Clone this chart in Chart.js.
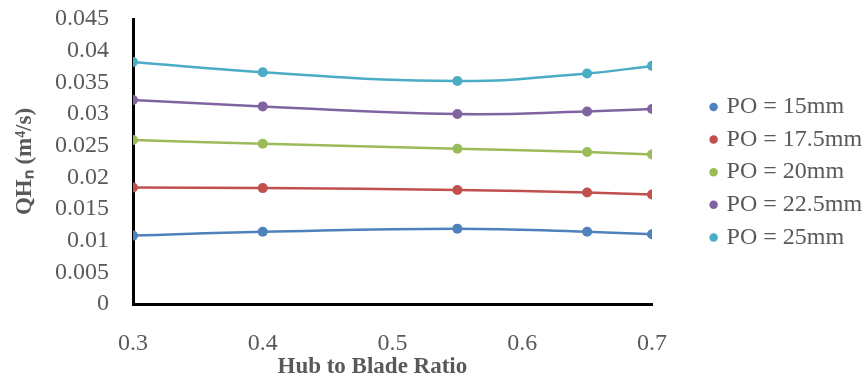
<!DOCTYPE html>
<html>
<head>
<meta charset="utf-8">
<script src="https://cdn.jsdelivr.net/npm/chart.js@4"></script>
<style>
  html, body { margin: 0; padding: 0; background: #fff; }
  #wrap { width: 863px; height: 381px; position: relative; }
</style>
</head>
<body>
<div id="wrap"><canvas id="c" width="863" height="381"></canvas></div>
<script>
const hubRatio = [0.3, 0.4, 0.55, 0.65, 0.7];
const seriesNames = ['PO = 15mm', 'PO = 17.5mm', 'PO = 20mm', 'PO = 22.5mm', 'PO = 25mm'];
const po15  = [0.0108, 0.0114, 0.0119, 0.0114, 0.0110];
const po175 = [0.0184, 0.0183, 0.0180, 0.0176, 0.0173];
const po20  = [0.0259, 0.0253, 0.0245, 0.0240, 0.0236];
const po225 = [0.0322, 0.0312, 0.0300, 0.0304, 0.0308];
const po25  = [0.0382, 0.0366, 0.0352, 0.0364, 0.0376];
const seriesValues = [po15, po175, po20, po225, po25];
const colors = ['#4F81BD', '#C0504D', '#9BBB59', '#8064A2', '#4BACC6'];

const FONT = '"Liberation Serif", "Times New Roman", serif';
const GREY = '#595959';

const datasets = seriesValues.map((vals, i) => ({
  label: seriesNames[i],
  data: vals.map((v, j) => ({ x: hubRatio[j], y: v })),
  borderColor: colors[i],
  backgroundColor: colors[i],
  borderWidth: 2.5,
  pointRadius: 5,
  pointHoverRadius: 5,
  pointBorderWidth: 0,
  tension: 0.45,
  fill: false
}));

// Fix the legend box width so it sits where the reference puts it
const legendWidth = {
  id: 'legendWidth',
  beforeUpdate(chart) {
    const lg = chart.legend;
    if (lg && !lg.__wrapped) {
      const orig = lg.fit;
      lg.fit = function () { orig.call(this); this.width = 159; };
      lg.__wrapped = true;
    }
  }
};

new Chart(document.getElementById('c'), {
  type: 'line',
  data: { datasets },
  plugins: [legendWidth],
  options: {
    responsive: false,
    animation: false,
    layout: { padding: { top: 19, left: 0, right: 0, bottom: 0 } },
    plugins: {
      tooltip: { enabled: false },
      legend: {
        position: 'right',
        align: 'start',
        title: { display: true, text: '', padding: { top: 27, bottom: 26 }, font: { size: 12 } },
        labels: {
          usePointStyle: true,
          pointStyle: 'circle',
          boxWidth: 2,
          boxHeight: 6,
          padding: 8.6,
          color: GREY,
          font: { family: FONT, size: 24 }
        }
      }
    },
    scales: {
      x: {
        type: 'linear',
        min: 0.3,
        max: 0.7,
        grid: { display: false, drawTicks: false },
        border: { display: true, color: '#000', width: 3 },
        ticks: {
          stepSize: 0.1,
          padding: 25,
          autoSkip: false,
          maxRotation: 0,
          color: GREY,
          font: { family: FONT, size: 24 },
          callback: v => (+v.toFixed(1)).toString()
        },
        title: {
          display: true,
          text: 'Hub to Blade Ratio       ',
          color: GREY,
          font: { family: FONT, size: 23, weight: 'bold' },
          padding: { top: 0, bottom: 0 }
        },
        afterFit: s => { s.height = 77; }
      },
      y: {
        min: 0,
        max: 0.045,
        grid: { display: false, drawTicks: false },
        border: { display: true, color: '#000', width: 3 },
        ticks: {
          stepSize: 0.005,
          padding: 24,
          autoSkip: false,
          color: GREY,
          font: { family: FONT, size: 24 },
          callback: v => (+v.toFixed(3)).toString()
        },
        title: {
          display: true,
          text: 'QHₙ (m⁴/s)',
          color: GREY,
          font: { family: FONT, size: 23, weight: 'bold' },
          padding: { top: 11, bottom: 0 }
        },
        afterFit: s => { s.width = 133; s.paddingTop = 0; s.paddingBottom = 0; }
      },
      gap: {
        type: 'linear',
        axis: 'y',
        position: 'right',
        display: true,
        grid: { display: false, drawTicks: false },
        border: { display: false },
        ticks: { display: false },
        afterFit: s => { s.width = 52; s.paddingTop = 0; s.paddingBottom = 0; }
      }
    }
  }
});
</script>
</body>
</html>
